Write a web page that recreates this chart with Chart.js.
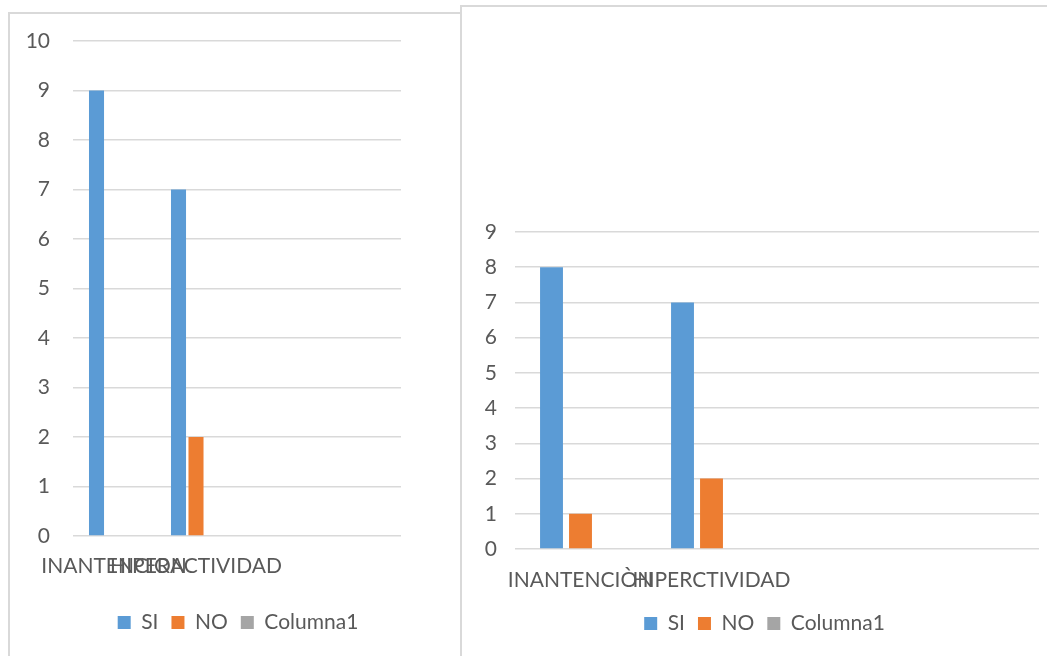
<!DOCTYPE html>
<html>
<head>
<meta charset="utf-8">
<script src="https://cdn.jsdelivr.net/npm/chart.js@4/dist/chart.umd.min.js"></script>
<style>
  html, body { margin: 0; padding: 0; background: #ffffff; width: 1047px; height: 656px; overflow: hidden; position: relative; }
  .frame { position: absolute; border: 2px solid #d9d9d9; box-sizing: border-box; background: #ffffff; }
  .plot { position: absolute; }
</style>
</head>
<body>
<div class="frame" style="left:8px; top:12px; width:454px; height:720px;"></div>
<div class="frame" style="left:460px; top:5px; width:620px; height:720px;"></div>
<div class="plot" style="left:10px; top:14px; width:449px; height:642px;"><canvas id="chartLeft"></canvas></div>
<div class="plot" style="left:462px; top:7px; width:585px; height:649px;"><canvas id="chartRight"></canvas></div>
<script>
// Survey results: first chart
const leftCategories = ['INANTENCION', 'HIPERACTIVIDAD', '', ''];
const leftSi = [9, 7, null, null];
const leftNo = [null, 2, null, null];
const leftColumna1 = [null, null, null, null];
const leftYMax = 10;

// Survey results: second chart
const rightCategories = ['INANTENCIÒN', 'HIPERCTIVIDAD', '', ''];
const rightSi = [8, 7, null, null];
const rightNo = [1, 2, null, null];
const rightColumna1 = [null, null, null, null];
const rightYMax = 9;

const seriesNames = ['SI', 'NO', 'Columna1'];
const seriesColors = ['#5b9bd5', '#ed7d31', '#a5a5a5'];

const FONT = { family: 'Lato, "Open Sans", sans-serif', size: 21 };
const TEXT = '#595959';
const GRID = '#d9d9d9';

function buildChart(canvasId, categories, series, yMax, geom) {
  return new Chart(document.getElementById(canvasId), {
    type: 'bar',
    data: {
      labels: categories,
      datasets: series.map((values, i) => ({
        label: seriesNames[i],
        data: values,
        backgroundColor: seriesColors[i],
        borderWidth: 0,
        categoryPercentage: geom.catPct,
        barPercentage: geom.barPct
      }))
    },
    options: {
      responsive: true,
      maintainAspectRatio: false,
      animation: false,
      layout: { padding: geom.padding },
      plugins: {
        tooltip: { enabled: false },
        title: { display: false },
        legend: {
          position: 'bottom',
          labels: {
            color: TEXT,
            font: FONT,
            boxWidth: 13,
            boxHeight: 13,
            padding: geom.legendPad
          }
        }
      },
      scales: {
        x: {
          grid: { display: false },
          border: { display: false },
          ticks: {
            color: TEXT,
            font: FONT,
            autoSkip: false,
            maxRotation: 0,
            minRotation: 0,
            padding: geom.xTickPad
          },
          afterFit: (scale) => { scale.height = geom.xHeight; }
        },
        y: {
          min: 0,
          max: yMax,
          // invisible tick marks keep the labels clear of the plot edge
          grid: { color: GRID, lineWidth: 1.5, drawTicks: true, tickLength: geom.yTickGap, tickColor: 'rgba(0,0,0,0)' },
          border: { display: false },
          ticks: {
            stepSize: 1,
            color: TEXT,
            font: FONT,
            padding: 3
          },
          afterFit: (scale) => { scale.width = geom.yWidth; }
        },
        // blank right-hand margin inside the frame
        margin: {
          type: 'linear',
          position: 'right',
          display: true,
          grid: { display: false },
          border: { display: false },
          ticks: { display: false },
          afterFit: (scale) => { scale.width = geom.rightGap; }
        }
      }
    }
  });
}

buildChart('chartLeft', leftCategories, [leftSi, leftNo, leftColumna1], leftYMax, {
  catPct: 0.64, barPct: 0.86,
  padding: { left: 7, top: 27, right: 0, bottom: 13 },
  legendPad: 13, xTickPad: 10, xHeight: 63, yTickGap: 20, yWidth: 56, rightGap: 58
});

buildChart('chartRight', rightCategories, [rightSi, rightNo, rightColumna1], rightYMax, {
  catPct: 0.664, barPct: 0.79,
  padding: { left: 20, top: 225, right: 0, bottom: 12 },
  legendPad: 13, xTickPad: 11, xHeight: 51, yTickGap: 15, yWidth: 33, rightGap: 8
});
</script>
</body>
</html>
